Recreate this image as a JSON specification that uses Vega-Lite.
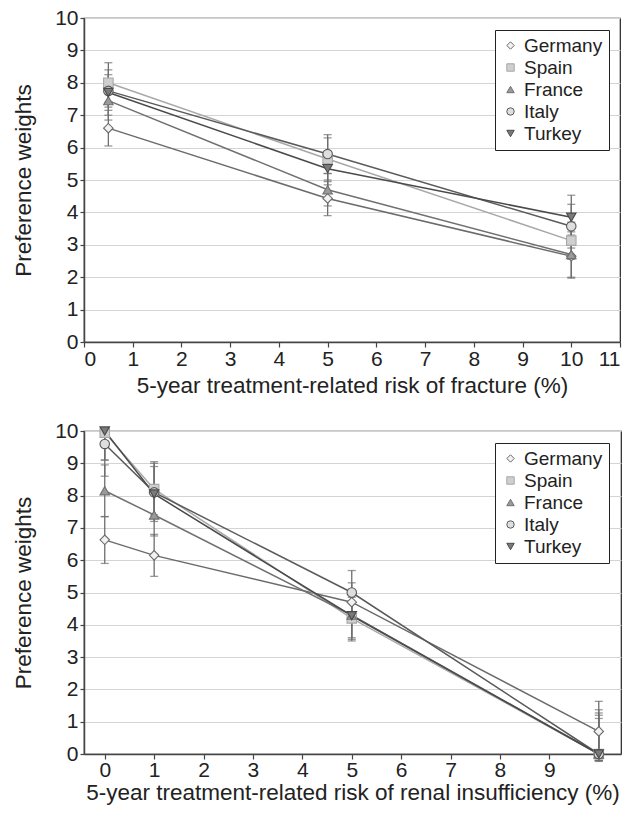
{
  "$schema": "https://vega.github.io/schema/vega-lite/v6.json",
  "background": "white",
  "padding": {"left": 11, "top": 6, "right": 5, "bottom": 5},
  "config": {
    "font": "Liberation Sans",
    "view": {"stroke": "#222", "strokeWidth": 1.2},
    "axis": {"labelFontSize": 21, "titleFontSize": 22.5, "labelColor": "#222", "titleColor": "#222", "titleFontWeight": "normal", "domainColor": "#444", "domainWidth": 1.5, "tickColor": "#444", "tickWidth": 1.2, "gridColor": "#d4d4d4", "labelFont": "Liberation Sans", "titleFont": "Liberation Sans"},
    "legend": {"orient": "none", "title": null, "strokeColor": "#222", "fillColor": "white", "padding": 6, "labelFontSize": 19, "labelColor": "#222", "labelFont": "Liberation Sans", "symbolSize": 55, "rowPadding": 2, "labelOffset": 4, "symbolStrokeWidth": 1},
    "concat": {"spacing": 21}
  },
  "datasets": {
    "fracture": [
      {"country": "Germany", "risk": 0.5, "w": 6.6, "lo": 6.05, "hi": 7.15},
      {"country": "Spain", "risk": 0.5, "w": 8.0, "lo": 7.4, "hi": 8.62},
      {"country": "France", "risk": 0.5, "w": 7.45, "lo": 6.85, "hi": 8.05},
      {"country": "Italy", "risk": 0.5, "w": 7.75, "lo": 7.25, "hi": 8.25},
      {"country": "Turkey", "risk": 0.5, "w": 7.7, "lo": 7.0, "hi": 8.4},
      {"country": "Germany", "risk": 5, "w": 4.43, "lo": 3.9, "hi": 4.95},
      {"country": "Spain", "risk": 5, "w": 5.65, "lo": 5.0, "hi": 6.3},
      {"country": "France", "risk": 5, "w": 4.7, "lo": 4.2, "hi": 5.2},
      {"country": "Italy", "risk": 5, "w": 5.8, "lo": 5.2, "hi": 6.4},
      {"country": "Turkey", "risk": 5, "w": 5.35, "lo": 4.85, "hi": 5.85},
      {"country": "Germany", "risk": 10, "w": 2.65, "lo": 2.0, "hi": 3.3},
      {"country": "Spain", "risk": 10, "w": 3.13, "lo": 2.55, "hi": 3.7},
      {"country": "France", "risk": 10, "w": 2.7, "lo": 1.97, "hi": 3.4},
      {"country": "Italy", "risk": 10, "w": 3.57, "lo": 2.9, "hi": 4.25},
      {"country": "Turkey", "risk": 10, "w": 3.85, "lo": 3.15, "hi": 4.53}
    ],
    "renal": [
      {"country": "Germany", "risk": 0, "w": 6.63, "lo": 5.9, "hi": 7.35},
      {"country": "Spain", "risk": 0, "w": 9.95, "lo": 9.1, "hi": 10.0},
      {"country": "France", "risk": 0, "w": 8.15, "lo": 7.35, "hi": 8.95},
      {"country": "Italy", "risk": 0, "w": 9.6, "lo": 8.6, "hi": 10.0},
      {"country": "Turkey", "risk": 0, "w": 10.0, "lo": 9.1, "hi": 10.0},
      {"country": "Germany", "risk": 1, "w": 6.15, "lo": 5.5, "hi": 6.8},
      {"country": "Spain", "risk": 1, "w": 8.2, "lo": 7.4, "hi": 9.0},
      {"country": "France", "risk": 1, "w": 7.4, "lo": 6.75, "hi": 8.05},
      {"country": "Italy", "risk": 1, "w": 8.1, "lo": 7.3, "hi": 8.9},
      {"country": "Turkey", "risk": 1, "w": 8.05, "lo": 7.2, "hi": 9.05},
      {"country": "Germany", "risk": 5, "w": 4.7, "lo": 4.1, "hi": 5.3},
      {"country": "Spain", "risk": 5, "w": 4.2, "lo": 3.55, "hi": 4.85},
      {"country": "France", "risk": 5, "w": 4.3, "lo": 3.6, "hi": 5.0},
      {"country": "Italy", "risk": 5, "w": 5.0, "lo": 4.3, "hi": 5.68},
      {"country": "Turkey", "risk": 5, "w": 4.28, "lo": 3.5, "hi": 5.05},
      {"country": "Germany", "risk": 10, "w": 0.7, "lo": -0.23, "hi": 1.63},
      {"country": "Spain", "risk": 10, "w": 0.0, "lo": -0.2, "hi": 1.1},
      {"country": "France", "risk": 10, "w": 0.0, "lo": -0.2, "hi": 1.27},
      {"country": "Italy", "risk": 10, "w": 0.0, "lo": -0.2, "hi": 1.37},
      {"country": "Turkey", "risk": 10, "w": 0.0, "lo": -0.2, "hi": 1.2}
    ]
  },
  "resolve": {
    "scale": {"shape": "independent", "fill": "independent", "stroke": "independent"},
    "legend": {"shape": "independent", "fill": "independent", "stroke": "independent"}
  },
  "vconcat": [
    {
      "width": 536,
      "height": 324,
      "data": {"name": "fracture"},
      "encoding": {
        "x": {"field": "risk", "type": "quantitative", "scale": {"domain": [0, 11], "nice": false},
          "axis": {"values": [0,1,2,3,4,5,6,7,8,9,10,11], "title": "5-year treatment-related risk of fracture (%)", "grid": false, "tickSize": 5, "labelPadding": 1.5, "titlePadding": 5}},
        "y": {"field": "w", "type": "quantitative", "scale": {"domain": [0, 10], "nice": false},
          "axis": {"values": [0,1,2,3,4,5,6,7,8,9,10], "title": "Preference weights", "grid": true, "tickSize": 4, "labelPadding": 2, "titlePadding": 19.5}}
      },
      "layer": [
        {
          "mark": {"type": "line", "strokeWidth": 1.5},
          "encoding": {
            "stroke": {"field": "country", "type": "nominal", "scale": {"domain": ["Germany","Spain","France","Italy","Turkey"], "range": ["#6b6b6b","#a8a8a8","#707070","#5a5a5a","#4a4a4a"]},
              "legend": {"legendX": 411, "legendY": 12}}
          }
        },
        {
          "mark": {"type": "errorbar", "ticks": {"size": 8}, "color": "#6e6e6e", "thickness": 1.3},
          "encoding": {
            "y": {"field": "lo", "type": "quantitative", "title": "Preference weights",
              "axis": {"values": [0,1,2,3,4,5,6,7,8,9,10], "title": "Preference weights", "grid": true, "tickSize": 4, "labelPadding": 2, "titlePadding": 19.5}},
            "y2": {"field": "hi"},
            "detail": {"field": "country"}
          }
        },
        {
          "mark": {"type": "point", "filled": true, "size": 90, "strokeWidth": 1.1, "opacity": 1},
          "encoding": {
            "stroke": {"field": "country", "type": "nominal", "legend": {"legendX": 411, "legendY": 12}},
            "shape": {"field": "country", "type": "nominal", "scale": {"domain": ["Germany","Spain","France","Italy","Turkey"], "range": ["diamond","square","triangle-up","circle","triangle-down"]},
              "legend": {"legendX": 411, "legendY": 12}},
            "fill": {"field": "country", "type": "nominal", "scale": {"domain": ["Germany","Spain","France","Italy","Turkey"], "range": ["#f2f2f2","#cfcfcf","#9a9a9a","#dedede","#7a7a7a"]},
              "legend": {"legendX": 411, "legendY": 12}}
          }
        }
      ]
    },
    {
      "width": 537,
      "height": 323,
      "data": {"name": "renal"},
      "encoding": {
        "x": {"field": "risk", "type": "quantitative", "scale": {"domain": [-0.42, 10.45], "nice": false, "zero": false},
          "axis": {"values": [0,1,2,3,4,5,6,7,8,9], "title": "5-year treatment-related risk of renal insufficiency (%)", "grid": false, "tickSize": 5, "labelPadding": 0, "titlePadding": 1}},
        "y": {"field": "w", "type": "quantitative", "scale": {"domain": [0, 10], "nice": false},
          "axis": {"values": [0,1,2,3,4,5,6,7,8,9,10], "title": "Preference weights", "grid": true, "tickSize": 4, "labelPadding": 2, "titlePadding": 19.5}}
      },
      "layer": [
        {
          "mark": {"type": "line", "strokeWidth": 1.5},
          "encoding": {
            "stroke": {"field": "country", "type": "nominal", "scale": {"domain": ["Germany","Spain","France","Italy","Turkey"], "range": ["#6b6b6b","#a8a8a8","#707070","#5a5a5a","#4a4a4a"]},
              "legend": {"legendX": 411, "legendY": 12}}
          }
        },
        {
          "mark": {"type": "errorbar", "ticks": {"size": 8}, "color": "#6e6e6e", "thickness": 1.3},
          "encoding": {
            "y": {"field": "lo", "type": "quantitative", "title": "Preference weights",
              "axis": {"values": [0,1,2,3,4,5,6,7,8,9,10], "title": "Preference weights", "grid": true, "tickSize": 4, "labelPadding": 2, "titlePadding": 19.5}},
            "y2": {"field": "hi"},
            "detail": {"field": "country"}
          }
        },
        {
          "mark": {"type": "point", "filled": true, "size": 90, "strokeWidth": 1.1, "opacity": 1},
          "encoding": {
            "stroke": {"field": "country", "type": "nominal", "legend": {"legendX": 411, "legendY": 12}},
            "shape": {"field": "country", "type": "nominal", "scale": {"domain": ["Germany","Spain","France","Italy","Turkey"], "range": ["diamond","square","triangle-up","circle","triangle-down"]},
              "legend": {"legendX": 411, "legendY": 12}},
            "fill": {"field": "country", "type": "nominal", "scale": {"domain": ["Germany","Spain","France","Italy","Turkey"], "range": ["#f2f2f2","#cfcfcf","#9a9a9a","#dedede","#7a7a7a"]},
              "legend": {"legendX": 411, "legendY": 12}}
          }
        }
      ]
    }
  ]
}
